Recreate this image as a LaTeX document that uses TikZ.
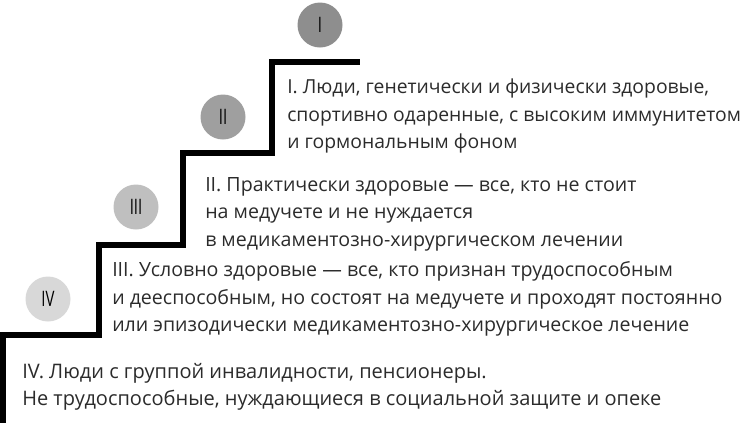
\documentclass[tikz,border=0pt]{standalone}
\usepackage{fontspec}
\setmainfont{Open Sans}
\usepackage{tikz}
\definecolor{levelI}{HTML}{8E8E8E}
\definecolor{levelII}{HTML}{9F9F9F}
\definecolor{levelIII}{HTML}{BFBFBF}
\definecolor{levelIV}{HTML}{D8D8D8}
\definecolor{inktext}{HTML}{2B2B2B}
\tikzset{
    level/.style={circle,minimum size=33.75pt,inner sep=0pt,text=black,font=\fontsize{16}{16}\selectfont},
    note/.style={anchor=west,align=left,inner sep=0pt,text=inktext,font=\fontsize{14.7}{20.6}\selectfont}
}

\begin{document}
\begin{tikzpicture}[x=0.75pt,y=-0.75pt]
    \useasboundingbox (0,0) rectangle (745,422);
    % stairs
    \draw[line width=4.9pt] (3,425) -- (3,335) -- (99,335) -- (99,245) -- (183,245) -- (183,153) -- (272,153) -- (272,62) -- (360,62);
    % level marks
    \node[level,fill=levelI] (lvlI) at (320,25) {\scalebox{0.7}[1]{I}};
    \node[level,fill=levelII] (lvlII) at (223,117) {\scalebox{0.7}[1]{II}};
    \node[level,fill=levelIII] (lvlIII) at (136,207) {\scalebox{0.7}[1]{III}};
    \node[level,fill=levelIV] (lvlIV) at (48,299) {\scalebox{0.7}[1]{IV}};
    % notes
    \node[note,font=\fontsize{14.5}{20.6}\selectfont] (noteI) at (287,116) {I. Люди, генетически и физически здоровые,\\спортивно одаренные, с высоким иммунитетом\\и гормональным фоном};
    \node[note] (noteII) at (205,214) {II. Практически здоровые — все, кто не стоит\\на медучете и не нуждается\\в медикаментозно-хирургическом лечении};
    \node[note] (noteIII) at (112,299) {III. Условно здоровые — все, кто признан трудоспособным\\и дееспособным, но состоят на медучете и проходят постоянно\\или эпизодически медикаментозно-хирургическое лечение};
    \node[note,font=\fontsize{15}{20}\selectfont] (noteIV) at (22,387) {IV. Люди с группой инвалидности, пенсионеры.\\Не трудоспособные, нуждающиеся в социальной защите и опеке};
\end{tikzpicture}
\end{document}
